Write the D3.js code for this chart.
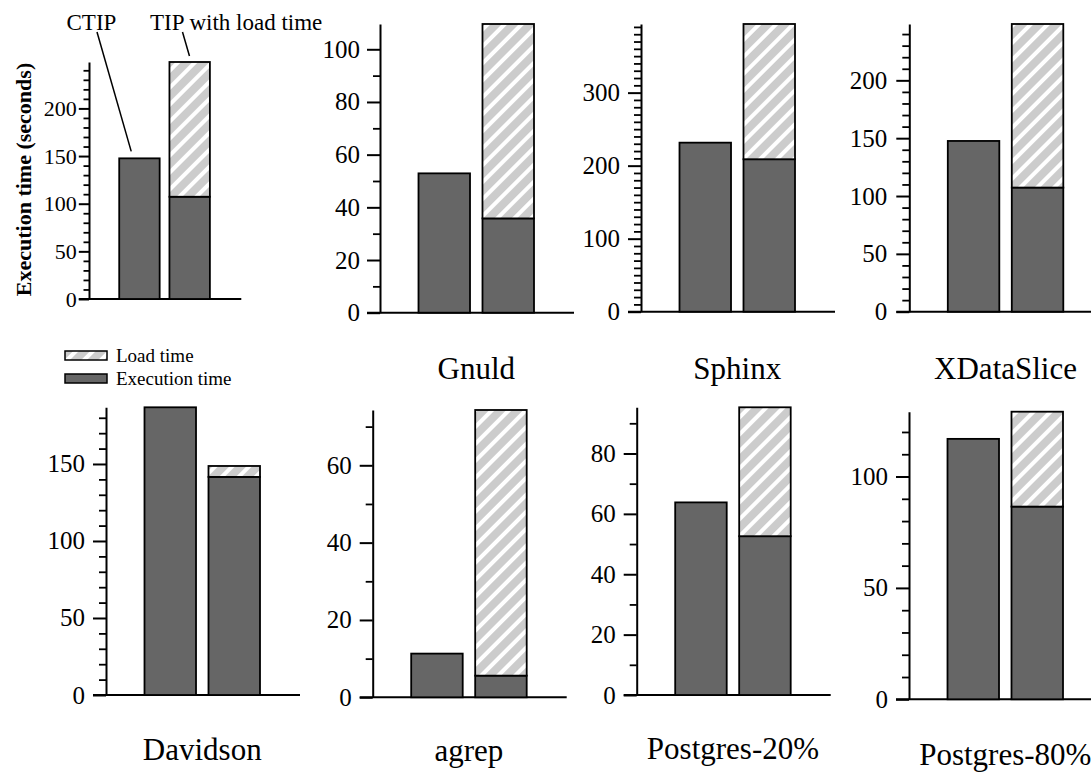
<!DOCTYPE html>
<html>
<head>
<meta charset="utf-8">
<script src="https://cdn.jsdelivr.net/npm/d3@7"></script>
<style>
  html, body { margin: 0; padding: 0; background: #fff; }
  svg { display: block; font-family: "Liberation Serif", "Times New Roman", serif; }
</style>
</head>
<body>
<svg id="chart" width="1091" height="773"></svg>
<script>
// ---- data ----
const panelNames   = ["", "Gnuld", "Sphinx", "XDataSlice", "Davidson", "agrep", "Postgres-20%", "Postgres-80%"];
const barKinds     = ["CTIP", "TIP"];
const ctipTime     = [147.6, 52.9, 231.5, 147.6, 186.8, 11.3, 63.8, 116.9];
const tipExecTime  = [107.3, 35.8, 208.8, 107.3, 141.6, 5.6, 52.6, 86.5];
const tipLoadTime  = [141.4, 73.8, 185.2, 141.4, 7.1, 68.7, 42.7, 42.6];
const majorStep    = [50, 20, 100, 50, 50, 20, 20, 50];
const minorStep    = [10, 10, 10, 10, 10, 10, 10, 10];
const legendLabels = ["Load time", "Execution time"];
const annotLabels  = ["CTIP", "TIP with load time"];
const yAxisTitle   = "Execution time (seconds)";

// ---- layout (positions only) ----
const layout = [
  {ax: 89,    base: 299,   top: 62,    s: 0.785, lab: null, tickFont: 22, pad: 2},
  {ax: 380,   base: 312.7, top: 24,    s: 1, lab: 379, tickFont: 25, pad: 7},
  {ax: 641,   base: 311.7, top: 24,    s: 1, lab: 379, tickFont: 25, pad: 8},
  {ax: 909.3, base: 311.7, top: 24,    s: 1, lab: 379, tickFont: 25, pad: 9},
  {ax: 106,   base: 695,   top: 407.3, s: 1, lab: 760, tickFont: 25, pad: 8},
  {ax: 372.7, base: 697.3, top: 410,   s: 1, lab: 761, tickFont: 25, pad: 8},
  {ax: 636.7, base: 695,   top: 407.3, s: 1, lab: 759, tickFont: 25, pad: 8},
  {ax: 909,   base: 699.3, top: 411.7, s: 1, lab: 765, tickFont: 25, pad: 8}
];

const DARK = "#666666", LIGHT = "#cccccc";
const svg = d3.select("#chart");

// hatch pattern
const defs = svg.append("defs");
const pat = defs.append("pattern")
  .attr("id", "hatch").attr("patternUnits", "userSpaceOnUse")
  .attr("width", 12).attr("height", 12)
  .attr("patternTransform", "rotate(45)");
pat.append("rect").attr("width", 12).attr("height", 12).attr("fill", LIGHT);
pat.append("rect").attr("x", 0).attr("width", 4).attr("height", 12).attr("fill", "#fff");

panelNames.forEach((name, i) => {
  const L = layout[i];
  const total = tipExecTime[i] + tipLoadTime[i];
  const maxV = Math.max(ctipTime[i], total);
  const y = d3.scaleLinear().domain([0, maxV]).range([L.base, L.top]);
  const x = d3.scaleBand().domain(barKinds)
    .range([L.ax + 38.5 * L.s, L.ax + 154 * L.s]).paddingInner(0.195).paddingOuter(0);

  const g = svg.append("g");

  const majors = d3.range(0, maxV + 1e-9, majorStep[i]);
  const minors = d3.range(0, maxV + 1e-9, minorStep[i]).filter(v => Math.abs(v / majorStep[i] - Math.round(v / majorStep[i])) > 1e-6);

  // minor ticks
  const minorAxis = d3.axisLeft(y).tickValues(minors).tickSize(7 * L.s).tickSizeOuter(0).tickFormat("");
  const gm = g.append("g").attr("transform", `translate(${L.ax},0)`).call(minorAxis);
  gm.select(".domain").remove();
  gm.selectAll("line").attr("stroke", "#000").attr("stroke-width", 1.8);

  // major ticks + labels
  const majorAxis = d3.axisLeft(y).tickValues(majors).tickSize(13 * L.s).tickSizeOuter(0)
    .tickPadding(L.pad).tickFormat(d3.format("d"));
  const ga = g.append("g").attr("transform", `translate(${L.ax},0)`).call(majorAxis);
  ga.select(".domain").attr("stroke", "#000").attr("stroke-width", 2);
  ga.selectAll("line").attr("stroke", "#000").attr("stroke-width", 2);
  ga.selectAll("text").attr("font-size", L.tickFont)
    .attr("font-family", "'Liberation Serif', 'Times New Roman', serif").attr("fill", "#000");

  // baseline
  g.append("line")
    .attr("x1", L.ax - 13 * L.s).attr("x2", L.ax + 194 * L.s)
    .attr("y1", y(0)).attr("y2", y(0))
    .attr("stroke", "#000").attr("stroke-width", 2);

  // bars
  const bars = [
    {k: "CTIP", y0: 0, y1: ctipTime[i], fill: DARK},
    {k: "TIP",  y0: 0, y1: tipExecTime[i], fill: DARK},
    {k: "TIP",  y0: tipExecTime[i], y1: total, fill: "url(#hatch)"}
  ];
  g.selectAll("rect.bar").data(bars).enter().append("rect")
    .attr("class", "bar")
    .attr("x", d => x(d.k))
    .attr("width", x.bandwidth())
    .attr("y", d => y(d.y1))
    .attr("height", d => y(d.y0) - y(d.y1))
    .attr("fill", d => d.fill)
    .attr("stroke", "#000").attr("stroke-width", 1.8);

  if (L.lab !== null && name) {
    g.append("text")
      .attr("x", x("CTIP") + (x("TIP") + x.bandwidth() - x("CTIP")) / 2)
      .attr("y", L.lab)
      .attr("text-anchor", "middle")
      .attr("font-size", 31)
      .text(name);
  }

  if (i === 0) {
    // annotations
    svg.append("text").attr("x", 66.5).attr("y", 30).attr("font-size", 23).text(annotLabels[0]);
    svg.append("text").attr("x", 150).attr("y", 30).attr("font-size", 23).text(annotLabels[1]);
    svg.append("line").attr("x1", 97).attr("y1", 32).attr("x2", x("CTIP") + 12).attr("y2", y(ctipTime[i]) - 7)
      .attr("stroke", "#000").attr("stroke-width", 1.5);
    svg.append("line").attr("x1", 182.5).attr("y1", 32).attr("x2", x("TIP") + 20).attr("y2", y(total) - 6)
      .attr("stroke", "#000").attr("stroke-width", 1.5);
    // y title
    svg.append("text")
      .attr("transform", "translate(31,179.5) rotate(-90)")
      .attr("text-anchor", "middle")
      .attr("font-size", 22).attr("font-weight", "bold")
      .text(yAxisTitle);
  }
});

// legend
const legendFills = ["url(#hatch)", DARK];
const legendY = [351, 374];
const lg = svg.append("g");
legendLabels.forEach((lab, j) => {
  lg.append("rect").attr("x", 65).attr("y", legendY[j]).attr("width", 42).attr("height", 9)
    .attr("fill", legendFills[j]).attr("stroke", "#000").attr("stroke-width", 1.5);
  lg.append("text").attr("x", 116).attr("y", legendY[j] + 11).attr("font-size", 19).text(lab);
});
</script>
</body>
</html>
